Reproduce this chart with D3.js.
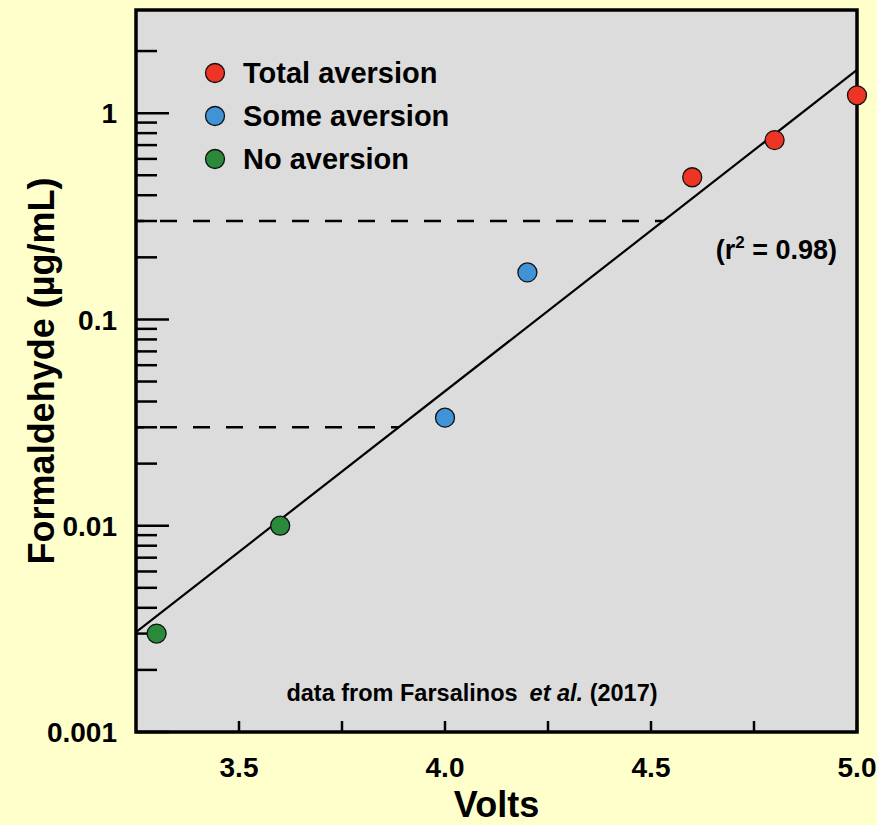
<!DOCTYPE html>
<html>
<head>
<meta charset="utf-8">
<script src="https://cdn.jsdelivr.net/npm/d3@7"></script>
<style>
  body { margin: 0; background: #ffffcc; }
  svg { display: block; font-family: "Liberation Sans", Arial, sans-serif; font-weight: bold; }
</style>
</head>
<body>
<svg id="chart" width="877" height="825"></svg>
<script>
// values
const volts = [3.3, 3.6, 4.0, 4.2, 4.6, 4.8, 5.0];
const formaldehyde = [0.003, 0.01, 0.0334, 0.169, 0.489, 0.74, 1.22];
const groups = ["No aversion", "No aversion", "Some aversion", "Some aversion",
                "Total aversion", "Total aversion", "Total aversion"];

const legendLabels = ["Total aversion", "Some aversion", "No aversion"];
const groupColors = ["#ee3424", "#3f93d6", "#2a8a3a"];

// regression line end points (log fit, r^2 = 0.98)
const fitX = [3.25, 5.0];
const fitY = [0.00305, 1.62];

// dashed thresholds
const thresholds = [0.3, 0.03];

const xTickMajor = [3.5, 4.0, 4.5, 5.0];
const xTickMinor = [3.75, 4.25, 4.75];
const yTickMajor = [0.001, 0.01, 0.1, 1];
const yTickLabels = ["0.001", "0.01", "0.1", "1"];

const svg = d3.select("#chart");
const plotL = 136, plotR = 857, plotT = 10, plotB = 732;

const x = d3.scaleLinear().domain([3.25, 5.0]).range([plotL, plotR]);
const y = d3.scaleLog().domain([0.001, Math.sqrt(10)]).range([plotB, plotT]);
const color = d3.scaleOrdinal().domain(legendLabels).range(groupColors);

svg.append("rect")
    .attr("x", plotL).attr("y", plotT)
    .attr("width", plotR - plotL).attr("height", plotB - plotT)
    .attr("fill", "#dcdcdc");

svg.append("defs").append("clipPath").attr("id", "plotclip")
    .append("rect")
    .attr("x", plotL).attr("y", plotT)
    .attr("width", plotR - plotL).attr("height", plotB - plotT);

// y ticks (log, minor 2..9 per decade)
const yMinor = y.ticks().filter(d => yTickMajor.indexOf(d) < 0 && d <= 2);
svg.append("g").selectAll("line")
    .data(yMinor).enter().append("line")
    .attr("x1", plotL).attr("x2", plotL + 21)
    .attr("y1", d => y(d)).attr("y2", d => y(d))
    .attr("stroke", "#000").attr("stroke-width", 2.5);
svg.append("g").selectAll("line")
    .data(yTickMajor).enter().append("line")
    .attr("x1", plotL).attr("x2", plotL + 33)
    .attr("y1", d => y(d)).attr("y2", d => y(d))
    .attr("stroke", "#000").attr("stroke-width", 2.5);
svg.append("g").selectAll("text")
    .data(yTickMajor).enter().append("text")
    .attr("x", 117).attr("y", d => y(d))
    .attr("dy", "0.36em")
    .attr("text-anchor", "end")
    .attr("font-size", 28)
    .text((d, i) => yTickLabels[i]);

// x ticks
svg.append("g").selectAll("line")
    .data(xTickMajor.concat(xTickMinor)).enter().append("line")
    .attr("x1", d => x(d)).attr("x2", d => x(d))
    .attr("y1", plotB).attr("y2", plotB - 11)
    .attr("stroke", "#000").attr("stroke-width", 2.5);
svg.append("g").selectAll("text")
    .data(xTickMajor).enter().append("text")
    .attr("x", d => x(d)).attr("y", 777)
    .attr("text-anchor", "middle")
    .attr("font-size", 28)
    .text(d => d.toFixed(1));

// dashed thresholds up to the fit line
const slope = (Math.log10(fitY[1]) - Math.log10(fitY[0])) / (fitX[1] - fitX[0]);
const crossX = v => fitX[0] + (Math.log10(v) - Math.log10(fitY[0])) / slope;
svg.append("g").selectAll("line")
    .data(thresholds).enter().append("line")
    .attr("x1", plotL).attr("x2", d => x(crossX(d)))
    .attr("y1", d => y(d)).attr("y2", d => y(d))
    .attr("stroke", "#000").attr("stroke-width", 2.5)
    .attr("stroke-dasharray", "17,16")
    .attr("stroke-dashoffset", 9);

// fit line
svg.append("line")
    .attr("clip-path", "url(#plotclip)")
    .attr("x1", x(fitX[0])).attr("y1", y(fitY[0]))
    .attr("x2", x(fitX[1])).attr("y2", y(fitY[1]))
    .attr("stroke", "#000").attr("stroke-width", 2.2);

// frame
svg.append("rect")
    .attr("x", plotL).attr("y", plotT)
    .attr("width", plotR - plotL).attr("height", plotB - plotT)
    .attr("fill", "none").attr("stroke", "#000").attr("stroke-width", 3.5);

// points
svg.append("g").selectAll("circle")
    .data(volts).enter().append("circle")
    .attr("cx", d => x(d))
    .attr("cy", (d, i) => y(formaldehyde[i]))
    .attr("r", 9.5)
    .attr("fill", (d, i) => color(groups[i]))
    .attr("stroke", "#111").attr("stroke-width", 1.3);

// legend
const legend = svg.append("g").selectAll("g")
    .data(legendLabels).enter().append("g")
    .attr("transform", (d, i) => `translate(215,${73 + i * 43})`);
legend.append("circle")
    .attr("r", 9.5)
    .attr("fill", d => color(d))
    .attr("stroke", "#111").attr("stroke-width", 1.3);
legend.append("text")
    .attr("x", 28).attr("y", 10)
    .attr("font-size", 29)
    .text(d => d);

// r squared
const r2 = svg.append("text")
    .attr("x", 837).attr("y", 259)
    .attr("text-anchor", "end")
    .attr("font-size", 27);
r2.append("tspan").text("(r");
r2.append("tspan").attr("font-size", 17).attr("dy", -11).text("2");
r2.append("tspan").attr("dy", 11).text(" = 0.98)");

// source note
const note = svg.append("text")
    .attr("x", 472).attr("y", 701)
    .attr("text-anchor", "middle")
    .attr("font-size", 23.5);
note.append("tspan").text("data from Farsalinos");
note.append("tspan").attr("dx", 12).attr("font-style", "italic").text("et al.");
note.append("tspan").text(" (2017)");

// axis titles
svg.append("text")
    .attr("x", (plotL + plotR) / 2).attr("y", 817)
    .attr("text-anchor", "middle")
    .attr("font-size", 36)
    .text("Volts");
svg.append("text")
    .attr("transform", `translate(54,${(plotT + plotB) / 2}) rotate(-90)`)
    .attr("text-anchor", "middle")
    .attr("font-size", 36)
    .text("Formaldehyde (µg/mL)");
</script>
</body>
</html>
